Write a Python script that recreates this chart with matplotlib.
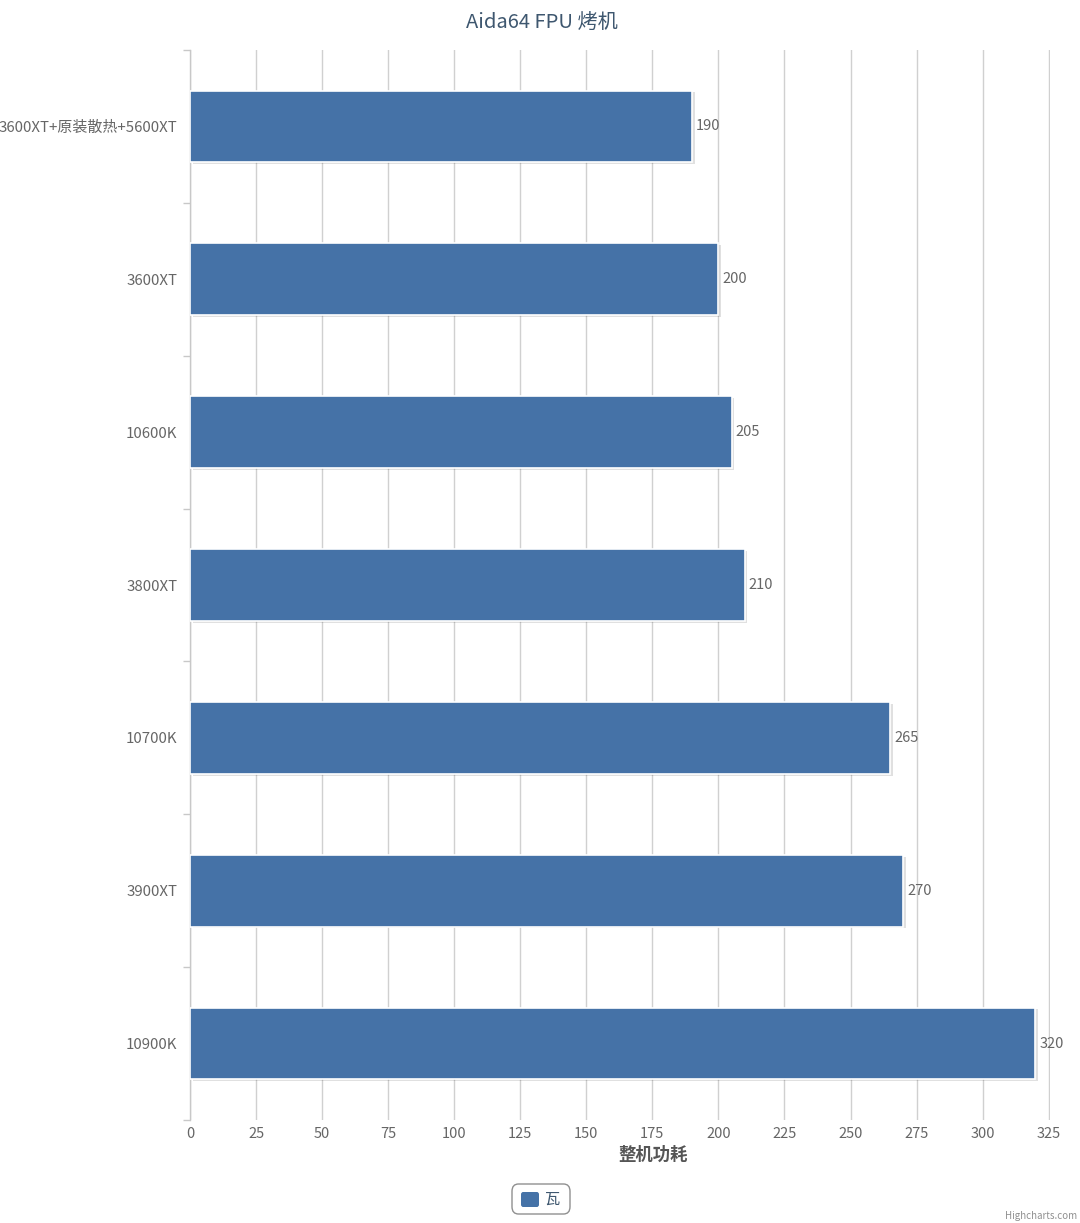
import matplotlib.pyplot as plt
from matplotlib.patches import FancyBboxPatch
import numpy as np

plt.rcParams['font.family'] = ['Noto Sans CJK SC', 'DejaVu Sans']

categories = ['3600XT+原装散热+5600XT', '3600XT', '10600K', '3800XT', '10700K', '3900XT', '10900K']
values = [190, 200, 205, 210, 265, 270, 320]
xticks = list(range(0, 326, 25))

bar_color = '#4572A7'
text_color = '#666666'

fig = plt.figure(figsize=(10.8, 12.23), dpi=100)
ax = fig.add_axes([190 / 1080, 1 - 1120 / 1223, 860 / 1080, 1070 / 1223])

n = len(categories)
ypos = np.arange(n)
# shadow
ax.barh(ypos + 0.012, values, height=0.47, left=1.0, color='#000000', alpha=0.12, zorder=2)
ax.barh(ypos, values, height=0.47, color=bar_color, edgecolor='white', linewidth=1.2, zorder=3)

for y, v in zip(ypos, values):
    ax.text(v + 1.5, y, str(v), va='center', ha='left', fontsize=10.5, color=text_color, zorder=4)

ax.set_xlim(0, 325.5)
ax.set_ylim(n - 0.5, -0.5)
ax.set_xticks(xticks)
ax.set_xticklabels([str(t) for t in xticks], fontsize=10.5, color=text_color)
ax.set_yticks(ypos)
ax.set_yticklabels(categories, fontsize=10.8, color=text_color)
ax.tick_params(axis='y', length=0, pad=9)
ax.tick_params(axis='x', length=0, pad=5)

# category boundary ticks on the left axis
ax.set_yticks(np.arange(-0.5, n, 1), minor=True)
ax.tick_params(axis='y', which='minor', length=5, color='#C8C8C8', width=1)

ax.grid(axis='x', color='#D0D0D0', linewidth=1, zorder=0)
ax.set_axisbelow(True)
for s in ['top', 'right', 'bottom']:
    ax.spines[s].set_visible(False)
ax.spines['left'].set_color('#C8C8C8')
ax.spines['left'].set_linewidth(1)

fig.text(653 / 1080, 1 - 1155 / 1223, '整机功耗', ha='center', va='center',
         fontsize=12.5, fontweight='bold', color='#555555')

fig.text(542 / 1080, 1 - 23 / 1223, 'Aida64 FPU 烤机', ha='center', va='center',
         fontsize=14.5, color='#3E576F')

# legend box
lx, ly, lw, lh = 512 / 1080, 1 - 1214 / 1223, 58 / 1080, 30 / 1223
box = FancyBboxPatch((lx, ly), lw, lh, boxstyle='round,pad=0,rounding_size=0.006',
                     transform=fig.transFigure, facecolor='white', edgecolor='#909090', linewidth=1)
fig.patches.append(box)
sq = FancyBboxPatch((521 / 1080, 1 - 1207 / 1223), 18 / 1080, 15 / 1223,
                    boxstyle='round,pad=0,rounding_size=0.002', transform=fig.transFigure,
                    facecolor=bar_color, edgecolor='none')
fig.patches.append(sq)
fig.text(545 / 1080, 1 - 1199 / 1223, '瓦', ha='left', va='center', fontsize=11, color='#3E576F')

fig.text(1077 / 1080, 1 - 1221 / 1223, 'Highcharts.com', ha='right', va='bottom', fontsize=7, color='#909090')

fig.savefig('out.png', dpi=100)
